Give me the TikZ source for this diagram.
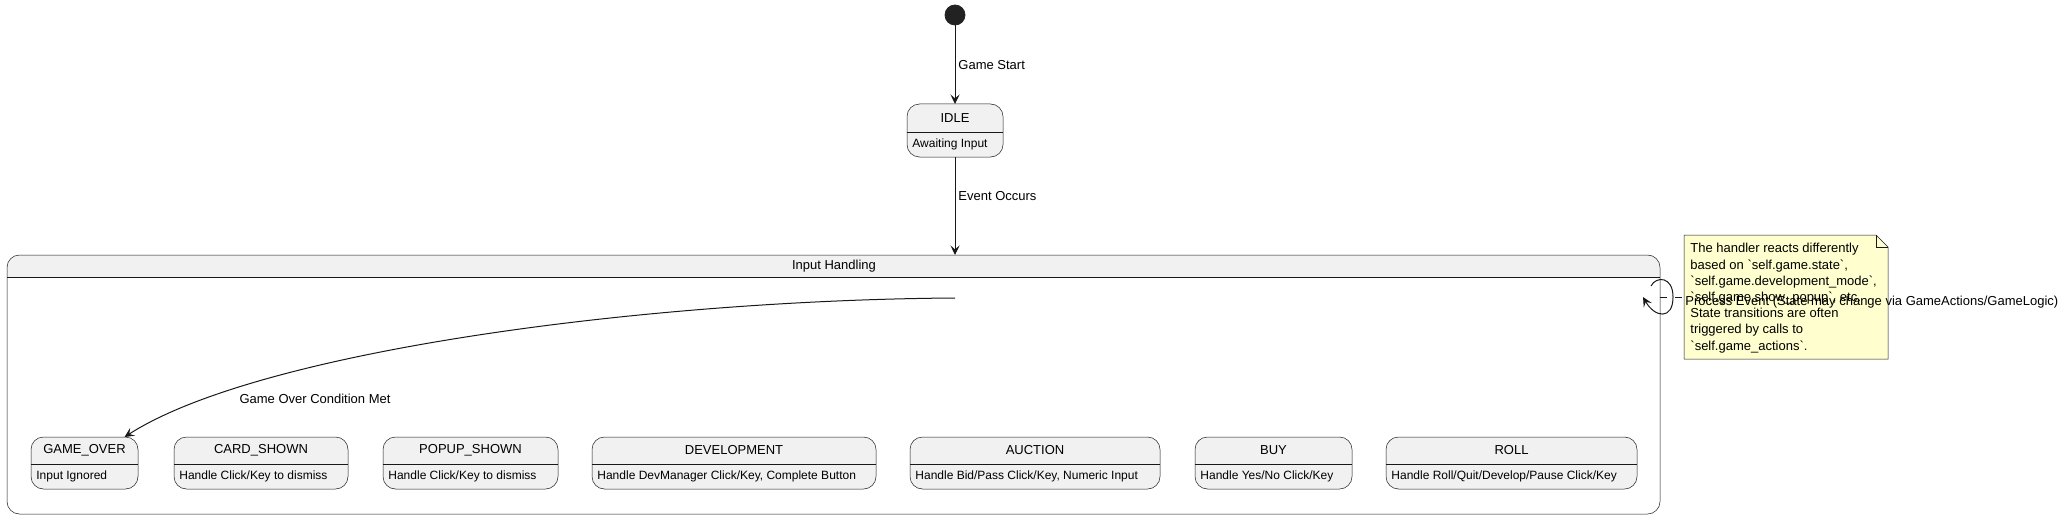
\documentclass[tikz,border=0pt]{standalone}
\usepackage{fontspec}
\setmainfont{Liberation Sans}[Ligatures=TeXOff]
\usetikzlibrary{arrows.meta}
\definecolor{linec}{HTML}{181818}
\definecolor{boxfill}{HTML}{F1F1F1}
\definecolor{notefill}{HTML}{FEFECE}
\definecolor{dotc}{HTML}{222222}
\newcommand{\fsname}{\fontsize{6.5pt}{7.8pt}\selectfont}
\newcommand{\fsbody}{\fontsize{6pt}{7.2pt}\selectfont}
\newcommand{\fslab}{\fontsize{6.5pt}{7.2pt}\selectfont}
\newcommand{\fsnote}{\fontsize{6.5pt}{8.1pt}\selectfont}
\tikzset{
  statebox/.style={draw=linec, line width=0.25pt, fill=boxfill, rounded corners=6.25pt, inner sep=0pt, outer sep=0pt},
  divline/.style={draw=linec, line width=0.25pt},
  nametext/.style={font=\fsname, inner sep=0pt, text=black},
  bodytext/.style={font=\fsbody, inner sep=0pt, text=black, anchor=west},
  labtext/.style={font=\fslab, inner sep=0pt, text=black},
  arr/.style={draw=linec, line width=0.5pt, -{Stealth[length=4.8pt, width=4.6pt, inset=2pt]}},
  notelink/.style={draw=linec, line width=0.5pt, dash pattern=on 3.5pt off 4pt},
}
\newcommand{\mystate}[8]{%
  \node[statebox, minimum width={(#3-#2)*0.5pt}, minimum height={(#6-#4)*0.5pt}] (#1) at ({(#2+#3)/2},{(#4+#6)/2}) {};
  \draw[divline] ({#2},{#5}) -- ({#3},{#5});
  \node[nametext] (#1-t) at ({(#2+#3)/2},{(#4+#5)/2}) {#7};
  \node[bodytext] (#1-b) at ({#2+5},{(#5+#6)/2}) {#8};
}
\begin{document}
\begin{tikzpicture}[x=0.5pt, y=-0.5pt]
\useasboundingbox (0,0) rectangle (2070,519);

% start
\node[circle, fill=dotc, draw=dotc, minimum size=10pt, inner sep=0pt] (start) at (955,15) {};

% IDLE
\mystate{idle}{907}{1003}{104}{132}{157}{IDLE}{Awaiting Input}

% composite
\fill[boxfill] (7,277) {[rounded corners=6.25pt] -- (7,255) -- (1660,255)} -- (1660,277) -- cycle;
\node[draw=linec, line width=0.25pt, rounded corners=6.25pt, inner sep=0pt, outer sep=0pt,
      minimum width=826.5pt, minimum height=129.5pt] (input) at (833.5,384.5) {};
\draw[divline] (7,277) -- (1660,277);
\node[nametext] (input-t) at (834,266) {Input Handling};

% inner states
\mystate{over}{31}{138}{437}{464}{489}{GAME\_OVER}{Input Ignored}
\mystate{card}{174}{348}{437}{464}{489}{CARD\_SHOWN}{Handle Click/Key to dismiss}
\mystate{popup}{383}{558}{437}{464}{489}{POPUP\_SHOWN}{Handle Click/Key to dismiss}
\mystate{dev}{592}{876}{437}{464}{489}{DEVELOPMENT}{Handle DevManager Click/Key, Complete Button}
\mystate{auction}{910}{1160}{437}{464}{489}{AUCTION}{Handle Bid/Pass Click/Key, Numeric Input}
\mystate{buy}{1195}{1352}{437}{464}{489}{BUY}{Handle Yes/No Click/Key}
\mystate{roll}{1386}{1637}{437}{464}{489}{ROLL}{Handle Roll/Quit/Develop/Pause Click/Key}

% arrows
\draw[arr] (start) -- (idle);
\node[labtext, anchor=west] (l1) at (958,65) {Game Start};
\draw[arr] (idle) -- (idle |- input.north);
\node[labtext, anchor=west] (l2) at (958,196) {Event Occurs};

\coordinate (hid) at (955,298);
\draw[arr] (hid) .. controls (650,300) and (260,350) .. (over.33);
\node[labtext] (l3) at (315,399) {Game Over Condition Met};

% note
\filldraw[draw=linec, line width=0.25pt, fill=notefill] (1684,235) -- (1876,235) -- (1888,247) -- (1888,359) -- (1684,359) -- cycle;
\draw[divline] (1876,235) -- (1876,247) -- (1888,247);
\node[font=\fsnote, inner sep=0pt, anchor=north west, align=left] (note) at (1690,243)
  {The handler reacts differently\\
   based on `self.game.state`,\\
   `self.game.development\_mode`,\\
   `self.game.show\_popup`, etc.\\
   State transitions are often\\
   triggered by calls to\\
   `self.game\_actions`.};
\coordinate (notel) at (1684,297);
\draw[notelink] (input.east |- notel) -- (notel);

% self loop on composite
\coordinate (ls) at (1651,286);
\coordinate (le) at (1643,297);
\draw[arr] (ls) .. controls (1656,276) and (1673,276) .. (1673,297) .. controls (1673,320) and (1655,318) .. (le);
\node[labtext, anchor=west] (l4) at (1685,302) {Process Event (State may change via GameActions/GameLogic)};
\end{tikzpicture}
\end{document}
